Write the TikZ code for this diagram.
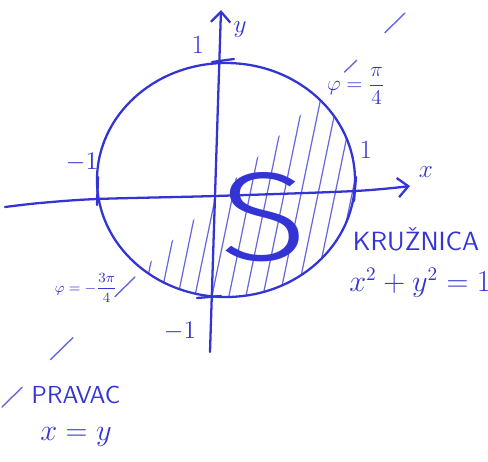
\documentclass[tikz,border=0pt]{standalone}
\usepackage{fontspec}
\usepackage{amsmath}
\usetikzlibrary{arrows.meta,calc}
\newfontfamily\thinfont{Fira Sans Light}
\definecolor{ink}{RGB}{52,52,212}
\tikzset{
  pen/.style={ink, line width=1.3pt, line cap=round, line join=round},
  hatch/.style={ink!75, line width=0.7pt, line cap=round},
  tip/.style={-{Straight Barb[length=6pt,width=11pt,line width=1.3pt]}},
  lbl/.style={ink, inner sep=0pt},
}

\begin{document}
\begin{tikzpicture}[x=0.02cm,y=-0.02cm]
    \useasboundingbox (0,0) rectangle (488,461);
    \def\cx{226}
    \def\cy{180}
    \def\rx{129}
    \def\ry{117}

    \coordinate (C) at (\cx,\cy);
    \coordinate (Lstart) at (2,407);
    \coordinate (Lend) at (405,13);

    % hatched half of the disc
    \begin{scope}
        \clip (C) ellipse [x radius=\rx, y radius=\ry];
        \clip (Lstart) -- (Lend) -- (488,13) -- (488,461) -- (2,461) -- cycle;
        \foreach \i in {88,105,...,380} {
            \draw[hatch] (\i,320) -- (\i+62,20);
        }
    \end{scope}

    % line x=y, only pieces of it
    \foreach \a/\b in {0/0.05, 0.12/0.176, 0.28/0.33, 0.85/0.88, 0.95/1} {
        \draw[hatch, line width=0.8pt] ($(Lstart)!\a!(Lend)$) -- ($(Lstart)!\b!(Lend)$);
    }

    % axes
    \draw[pen, tip] plot[smooth] coordinates {(5,207) (40,203) (97,199) (215,196) (355,191) (410,186)};
    \draw[pen, tip] (210,352) -- (215,196) -- (221,10);

    % unit circle
    \draw[pen] (C) ellipse [x radius=\rx, y radius=\ry];

    % ticks
    \draw[pen] (212,62) -- (234,59);
    \draw[pen] (356,177) -- (354,201);
    \draw[pen] (98,177) -- (97,205);
    \draw[pen] (197,298) -- (221,296);

    % labels
    \node[lbl, font=\fontsize{15}{17}\selectfont] (ytop) at (198,45) {1};
    \node[lbl, font=\fontsize{15}{17}\selectfont] (ylab) at (240,30) {$y$};
    \node[lbl, font=\fontsize{15}{17}\selectfont] (xlab) at (426,172) {$x$};
    \node[lbl, font=\fontsize{15}{17}\selectfont] (xright) at (366,150) {1};
    \node[lbl, font=\fontsize{15}{17}\selectfont] (xleft) at (82,162) {$-1$};
    \node[lbl, font=\fontsize{15}{17}\selectfont] (ybot) at (180,331) {$-1$};

    \node[lbl, font=\fontsize{12}{14}\selectfont] (phione) at (356,86) {$\varphi=\dfrac{\pi}{4}$};
    \node[lbl, font=\fontsize{8}{10}\selectfont] (phitwo) at (86,288) {$\varphi=-\dfrac{3\pi}{4}$};

    \node[lbl, font=\thinfont\fontsize{72}{76}\selectfont, xscale=1.3] (area) at (264,217) {S};

    \node[lbl, font=\sffamily\fontsize{15}{17}\selectfont] (circ) at (416,239) {KRUŽNICA};
    \node[lbl, font=\fontsize{16}{18}\selectfont] (circeq) at (420,283) {$x^2+y^2=1$};
    \node[lbl, font=\sffamily\fontsize{14}{16}\selectfont] (line) at (76,395) {PRAVAC};
    \node[lbl, font=\fontsize{17}{19}\selectfont] (lineeq) at (76,437) {$x=y$};
\end{tikzpicture}
\end{document}
